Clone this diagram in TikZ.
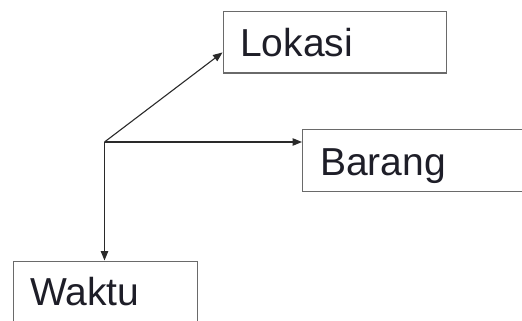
\documentclass[tikz,border=0pt]{standalone}
\usepackage{fontspec}
\setmainfont{Liberation Sans}
\usetikzlibrary{arrows.meta}
\definecolor{boxline}{HTML}{6A6A6A}
\definecolor{wire}{HTML}{2A2A2A}
\definecolor{labelink}{HTML}{1E1E28}
\tikzset{
  dimbox/.style={draw=boxline, line width=1.4pt, fill=white, inner sep=0pt,
    anchor=north west},
  dimtext/.style={text=labelink, font=\fontsize{39}{44}\selectfont,
    inner sep=0pt, anchor=base west},
  link/.style={draw=wire, line width=1.1pt, -{Triangle[length=9.5pt,width=7.5pt]}}
}
\begin{document}
\begin{tikzpicture}[x=1pt,y=-1pt]
  \useasboundingbox (0,0) rectangle (522,321);
  % dimension boxes with their labels
  \node[dimbox, minimum width=223.5pt, minimum height=61.5pt] (lokasi) at (222.5,11) {};
  \node[dimtext] (lokasitext) at (240,57) {Lokasi};
  \node[dimbox, minimum width=222pt, minimum height=62pt] (barang) at (302,129) {};
  \node[dimtext] (barangtext) at (320,175) {Barang};
  \node[dimbox, minimum width=183.5pt, minimum height=70pt] (waktu) at (13,260.5) {};
  \node[dimtext] (waktutext) at (30,305) {Waktu};
  % branch point and connectors
  \coordinate (hub) at (104.5,142);
  \draw[link] (hub) -- ([yshift=-10pt]lokasi.west);
  \draw[link] (hub) -- (hub -| barang.west);
  \draw[link] (hub) -- (hub |- waktu.north);
\end{tikzpicture}
\end{document}
